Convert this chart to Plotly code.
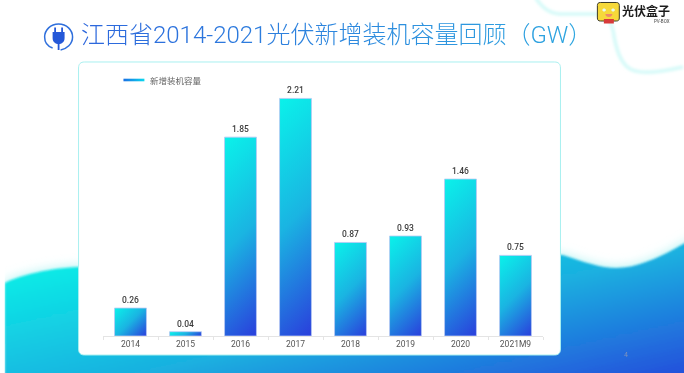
import re
import plotly.graph_objects as go

categories = ["2014", "2015", "2016", "2017", "2018", "2019", "2020", "2021M9"]
values = [0.26, 0.04, 1.85, 2.21, 0.87, 0.93, 1.46, 0.75]
value_labels = ["0.26", "0.04", "1.85", "2.21", "0.87", "0.93", "1.46", "0.75"]
series_name = "新增装机容量"
title_text = "江西省2014-2021光伏新增装机容量回顾（GW）"

W, H = 684, 373
L, R, T, B = 102.5, 140.5, 70, 37
PW, PH = W - L - R, H - T - B
CJK = "Noto Sans CJK SC"
LAT = "Roboto, Noto Sans CJK SC"


def fx(x):
    return (float(x) - L) / PW


def fy(y):
    return 1 - (float(y) - T) / PH


def path(d):
    tokens = re.findall(r"[A-Za-z]|-?\d+\.?\d*,-?\d+\.?\d*", d)
    out = []
    for t in tokens:
        if "," in t:
            a, b = t.split(",")
            out.append(f"{fx(a):.5f},{fy(b):.5f}")
        else:
            out.append(t)
    return " ".join(out)


def shape(d, fill="rgba(0,0,0,0)", line=None, width=0, name=""):
    return dict(type="path", xref="paper", yref="paper", layer="below", path=path(d), name=name,
                fillcolor=fill, line=dict(color=line or "rgba(0,0,0,0)", width=width))


def ann(x, y, text, size, color, font=CJK, anchor="left", weight=None):
    f = dict(size=size, color=color, family=font)
    if weight:
        f["weight"] = weight
    return dict(x=fx(x), y=fy(y), xref="paper", yref="paper", text=text, showarrow=False,
                xanchor=anchor, yanchor="middle", font=f)


WAVE = ("M4,283 C20,275 50,268 78,267 L563,255 C585,262 600,268 617,268 "
        "C640,268 665,255 684,244 L700,236 L700,392 L4,392 Z")
shapes = [
    shape("M536,-2 C542,6 548,13 560,14 L597,14 C608,15 612,22 614,32 C616,46 620,60 628,67 "
          "C636,74 652,74 684,67", line="#d4faf8", width=3.5, name="deco"),
    shape(WAVE, fill="#a8f2f2", name="glow"),
    shape(WAVE, fill="#1ab0e0", name="wave"),
    shape("M-5,230 L4,230 L4,380 L-5,380 Z", fill="#ffffff"),
    shape("M84,62 L555,62 C559,62 561,64 561,68 L561,349 C561,353 559,355 555,355 L84,355 "
          "C80,355 78,353 78,349 L78,68 C78,64 80,62 84,62 Z", fill="#ffffff", line="#a8f0f0", width=1),
    # legend swatch
    shape("M123,78.7 L144,78.7 L144,81.3 L123,81.3 Z", fill="#12a8ea", name="swatch"),
    # plug icon
    shape("M52,48 C46,46 44,41 44,37 C44,30 50,24 58,24 C66,24 72,30 72,37 C72,44 66,49 60,50",
          line="#2f6fdc", width=1.5),
    shape("M52,32 L64,32 L64,38 C64,42 61,44 58,44 C55,44 52,42 52,38 Z", fill="#2558d8"),
    shape("M54.5,32 L54.5,27.5 M61.5,32 L61.5,27.5 M58,44 L58,50", line="#2558d8", width=1.8),
    # logo
    shape("M601,2.5 L617,2.5 C619,2.5 620,3.5 620,5.5 L620,18 C620,20 619,21 617,21 L601,21 "
          "C599,21 598,20 598,18 L598,5.5 C598,3.5 599,2.5 601,2.5 Z", fill="#f6d93a", line="#3a3a2a", width=1),
    shape("M604.5,19 L614.5,19 L614.5,23.5 L604.5,23.5 Z", fill="#d83a3a"),
    shape("M603,10 C603,8 606.5,8 606.5,10 C606.5,12 603,12 603,10 Z", fill="#e8fbf0"),
    shape("M612,10 C612,8 615.5,8 615.5,10 C615.5,12 612,12 612,10 Z", fill="#e8fbf0"),
    shape("M606,14 L613,14 C613,18 606,18 606,14 Z", fill="#ee8a6a"),
]

annotations = [
    ann(78, 34.5, title_text, 24, "#2f80dc", font=LAT, weight=300),
    ann(147.5, 80, series_name, 8.5, "#666666"),
    ann(621, 10.5, "<b>光伏盒子</b>", 12, "#1c1c1c"),
    ann(673, 21, "PV-BOX", 4.5, "#444444", font="Roboto", anchor="right"),
    ann(627, 355, "4", 7, "#7f93bc", font="Roboto", anchor="center"),
]

fig = go.Figure(go.Bar(
    x=categories, y=values, name=series_name, text=value_labels, textposition="outside",
    cliponaxis=False, width=0.58,
    textfont=dict(size=8.5, color="#3c3c3c", family=LAT, weight=500),
    marker=dict(color="#12a8ea", line=dict(color="#b8c8f4", width=0.8)),
))
fig.update_layout(
    width=W, height=H, autosize=False, showlegend=False,
    margin=dict(l=L, r=R, t=T, b=B), paper_bgcolor="#ffffff", plot_bgcolor="rgba(0,0,0,0)",
    shapes=shapes, annotations=annotations, font=dict(family=CJK),
    xaxis=dict(type="category", showline=True, linecolor="#e4e4e4", linewidth=1, ticks="outside",
               tickson="boundaries", ticklen=3, tickcolor="#e4e4e4", showgrid=False,
               tickfont=dict(size=8.5, color="#555555", family=LAT)),
    yaxis=dict(visible=False, range=[0, PH / 107.5], showgrid=False, zeroline=False),
)

post = r"""
document.body.style.margin = '0';
var gd = document.getElementById('{plot_id}');
gd.style.filter = 'blur(0.35px)';
var svg = gd.querySelector('svg.main-svg');
var NS = 'http://www.w3.org/2000/svg';
var defs = svg.querySelector('defs') || svg.insertBefore(document.createElementNS(NS,'defs'), svg.firstChild);
function grad(id, units, c, stops) {
  var g = document.createElementNS(NS,'linearGradient');
  g.setAttribute('id', id); g.setAttribute('gradientUnits', units);
  for (var k in c) g.setAttribute(k, c[k]);
  stops.forEach(function(s){ var e = document.createElementNS(NS,'stop');
    e.setAttribute('offset', s[0]); e.setAttribute('stop-color', s[1]); g.appendChild(e); });
  defs.appendChild(g);
}
function blur(id, sd) {
  var f = document.createElementNS(NS,'filter');
  f.setAttribute('id', id); f.setAttribute('x','-20%'); f.setAttribute('y','-40%');
  f.setAttribute('width','140%'); f.setAttribute('height','180%');
  var b = document.createElementNS(NS,'feGaussianBlur');
  b.setAttribute('stdDeviation', sd); f.appendChild(b); defs.appendChild(f);
}
blur('fGlow', 6); blur('fWave', 0.8); blur('fDeco', 1.4);
var barStops = [[0,'#0af2ea'],[0.5,'#1ab4e2'],[1,'#2a3edc']];
grad('gWave','userSpaceOnUse',{x1:5,y1:282,x2:58,y2:516},[[0,'#0de8e6'],[0.5,'#1ab0e0'],[1,'#2450dc']]);
grad('gLegend','objectBoundingBox',{x1:0,y1:0,x2:1,y2:0},[[0,'#1a70e4'],[1,'#0ad8ee']]);
grad('gTitle','objectBoundingBox',{x1:0,y1:0,x2:1,y2:0},[[0,'#2c66dc'],[1,'#2ea8e0']]);
gd.querySelectorAll('.bars .point path').forEach(function(p, i){
  var bb = p.getBBox();
  var cx = bb.x + bb.width/2, cy = bb.y + bb.height/2, d = (bb.width + bb.height)/4;
  var id = 'gBar' + i;
  grad(id,'userSpaceOnUse',{x1:cx-d,y1:cy-d,x2:cx+d,y2:cy+d},barStops);
  p.style.setProperty('fill','url(#'+id+')');
});
var shp = gd.layout.shapes;
var fills = {wave:'gWave', swatch:'gLegend'};
var filt = {glow:'fGlow', wave:'fWave', deco:'fDeco'};
gd.querySelectorAll('.layer-below .shapelayer path').forEach(function(n){
  var i = +n.getAttribute('data-index'); var nm = shp[i] && shp[i].name;
  if (fills[nm]) n.style.setProperty('fill','url(#'+fills[nm]+')');
  if (filt[nm]) n.style.setProperty('filter','url(#'+filt[nm]+')');
});
gd.querySelectorAll('.annotation text').forEach(function(t){
  if (t.textContent.indexOf('江西省') === 0) t.style.setProperty('fill','url(#gTitle)'); });
"""
fig.write_html("out.html", post_script=post, config=dict(displayModeBar=False, responsive=False))
